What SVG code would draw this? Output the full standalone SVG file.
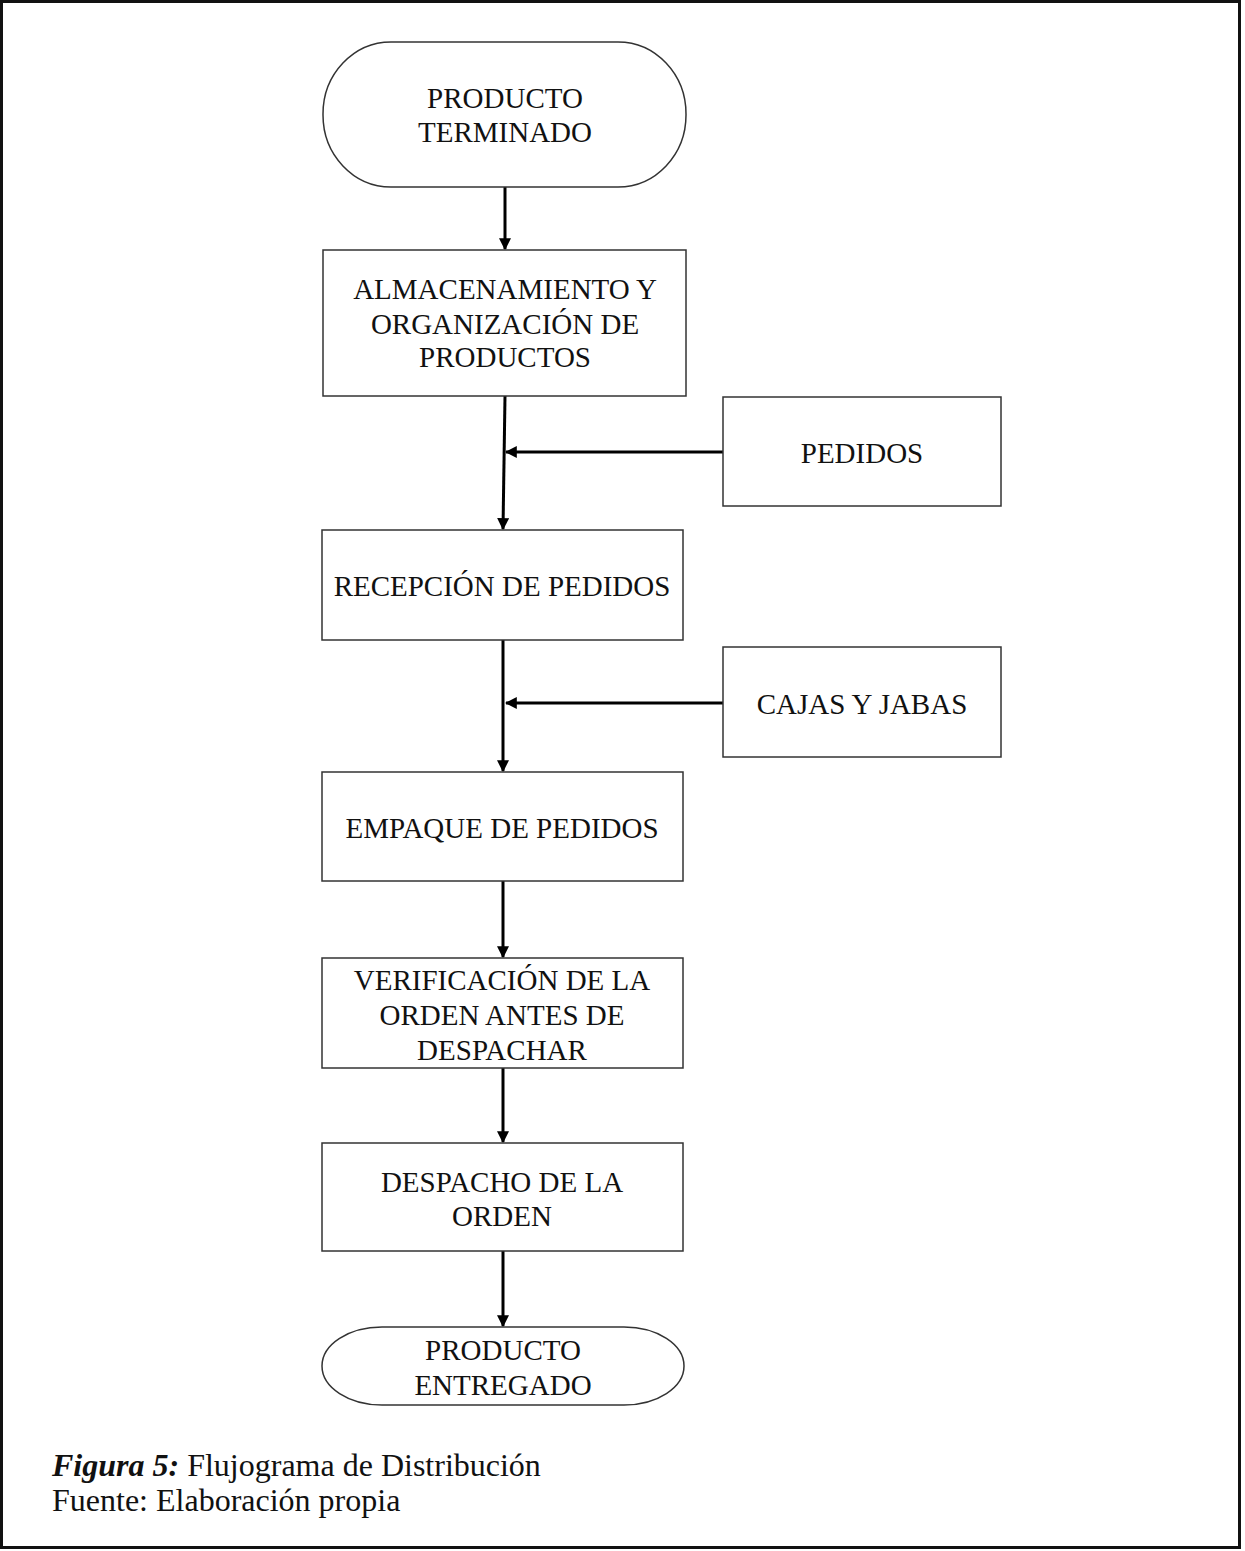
<svg xmlns="http://www.w3.org/2000/svg" width="1245" height="1551" viewBox="0 0 1245 1551">
  <style>
    .box { fill: #ffffff; stroke: #333333; stroke-width: 1.5; }
    .lbl { font-family: "Liberation Serif", "Times New Roman", serif; font-size: 29px; fill: #111111; text-anchor: middle; }
    .cap { font-family: "Liberation Serif", "Times New Roman", serif; font-size: 32px; fill: #111111; }
    .flow { fill: none; stroke: #000000; stroke-width: 3; }
  </style>
  <defs>
    <marker id="head" viewBox="0 0 10 10" refX="9" refY="5" markerWidth="4" markerHeight="4" orient="auto" markerUnits="strokeWidth">
      <path d="M0,0 L10,5 L0,10 Z" fill="#000000"/>
    </marker>
  </defs>

  <!-- page frame -->
  <rect x="1.5" y="1.5" width="1238" height="1546" fill="#ffffff" stroke="#111111" stroke-width="3"/>

  <!-- connectors -->
  <g id="connectors">
    <line class="flow" x1="505" y1="187" x2="505" y2="249" marker-end="url(#head)"/>
    <line class="flow" x1="505" y1="396" x2="503" y2="529" marker-end="url(#head)"/>
    <line class="flow" x1="723" y1="452" x2="506" y2="452" marker-end="url(#head)"/>
    <line class="flow" x1="503" y1="640" x2="503" y2="771" marker-end="url(#head)"/>
    <line class="flow" x1="723" y1="703" x2="506" y2="703" marker-end="url(#head)"/>
    <line class="flow" x1="503" y1="881" x2="503" y2="957" marker-end="url(#head)"/>
    <line class="flow" x1="503" y1="1068" x2="503" y2="1142" marker-end="url(#head)"/>
    <line class="flow" x1="503" y1="1251" x2="503" y2="1326" marker-end="url(#head)"/>
  </g>

  <!-- start terminal -->
  <g id="producto-terminado">
    <rect class="box" x="323" y="42" width="363" height="145" rx="68" ry="72"/>
    <text class="lbl" x="505" y="108">PRODUCTO</text>
    <text class="lbl" x="505" y="142">TERMINADO</text>
  </g>

  <g id="almacenamiento">
    <rect class="box" x="323" y="250" width="363" height="146"/>
    <text class="lbl" x="505" y="299">ALMACENAMIENTO Y</text>
    <text class="lbl" x="505" y="334">ORGANIZACIÓN DE</text>
    <text class="lbl" x="505" y="367">PRODUCTOS</text>
  </g>

  <g id="pedidos">
    <rect class="box" x="723" y="397" width="278" height="109"/>
    <text class="lbl" x="862" y="463">PEDIDOS</text>
  </g>

  <g id="recepcion">
    <rect class="box" x="322" y="530" width="361" height="110"/>
    <text class="lbl" x="502" y="596">RECEPCIÓN DE PEDIDOS</text>
  </g>

  <g id="cajas-jabas">
    <rect class="box" x="723" y="647" width="278" height="110"/>
    <text class="lbl" x="862" y="714">CAJAS Y JABAS</text>
  </g>

  <g id="empaque">
    <rect class="box" x="322" y="772" width="361" height="109"/>
    <text class="lbl" x="502" y="838">EMPAQUE DE PEDIDOS</text>
  </g>

  <g id="verificacion">
    <rect class="box" x="322" y="958" width="361" height="110"/>
    <text class="lbl" x="502" y="990">VERIFICACIÓN DE LA</text>
    <text class="lbl" x="502" y="1025">ORDEN ANTES DE</text>
    <text class="lbl" x="502" y="1060">DESPACHAR</text>
  </g>

  <g id="despacho">
    <rect class="box" x="322" y="1143" width="361" height="108"/>
    <text class="lbl" x="502" y="1192">DESPACHO DE LA</text>
    <text class="lbl" x="502" y="1226">ORDEN</text>
  </g>

  <!-- end terminal -->
  <g id="producto-entregado">
    <rect class="box" x="322" y="1327" width="362" height="78" rx="60" ry="39"/>
    <text class="lbl" x="503" y="1360">PRODUCTO</text>
    <text class="lbl" x="503" y="1395">ENTREGADO</text>
  </g>

  <!-- caption -->
  <g id="caption">
    <text class="cap" x="52" y="1476"><tspan font-weight="bold" font-style="italic">Figura 5:</tspan> Flujograma de Distribución</text>
    <text class="cap" x="52" y="1511">Fuente: Elaboración propia</text>
  </g>
</svg>
